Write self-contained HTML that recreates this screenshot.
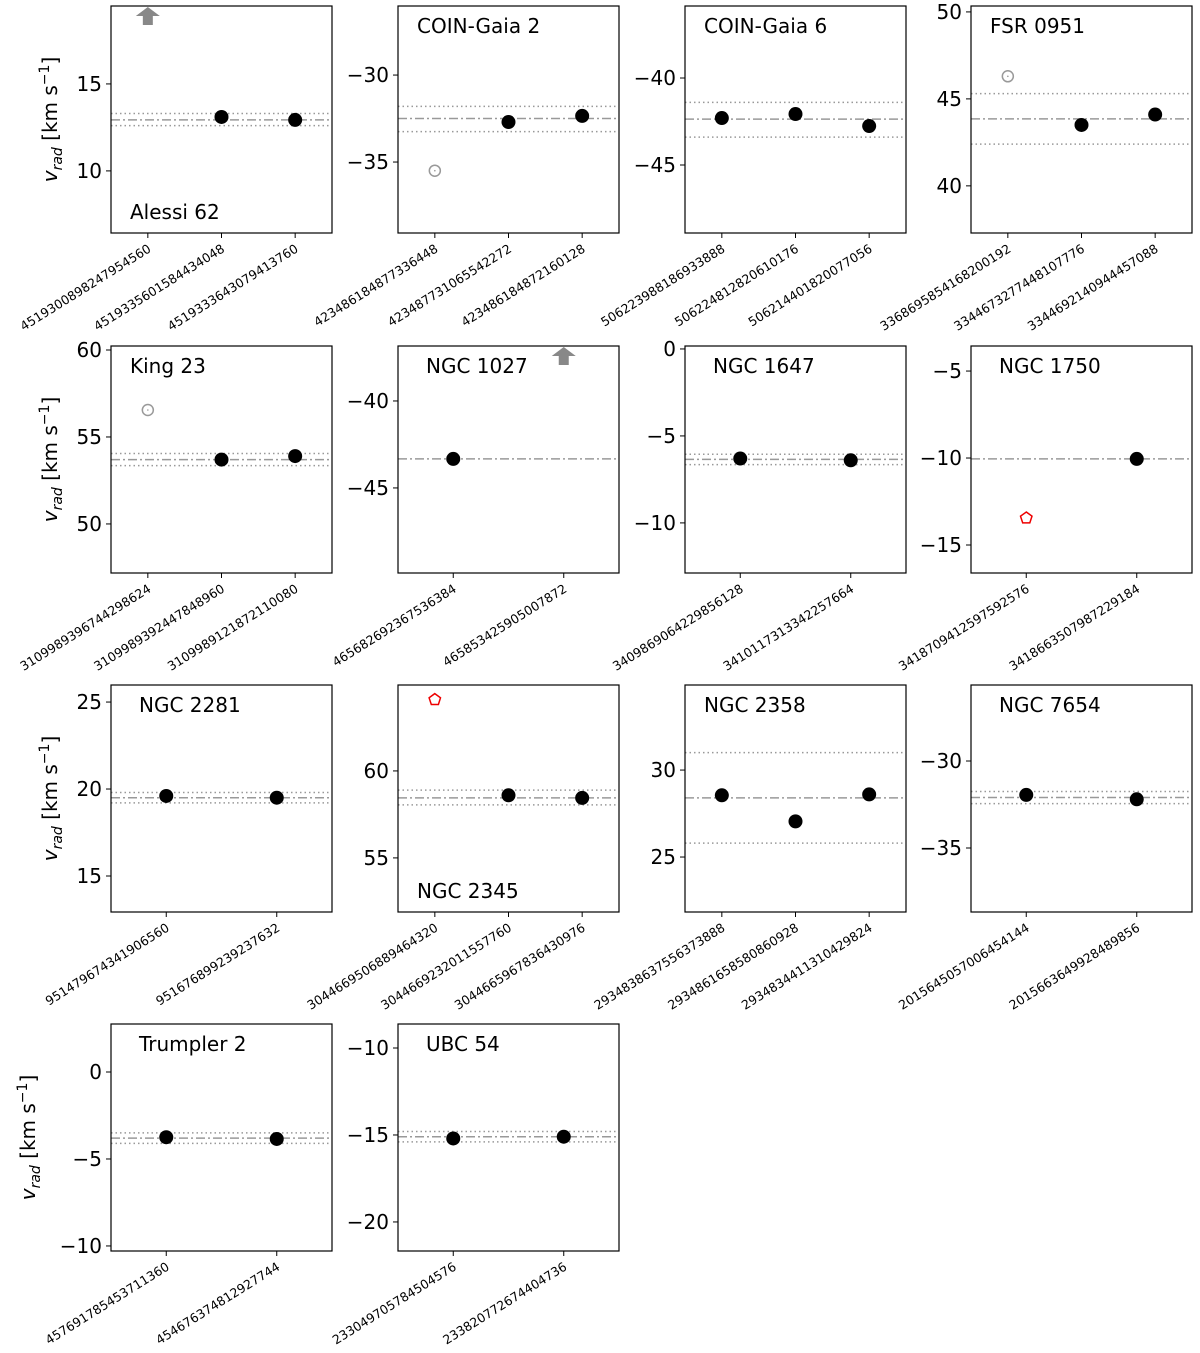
<!DOCTYPE html>
<html><head><meta charset="utf-8"><style>
html,body{margin:0;padding:0;background:#fff;}
svg{display:block;font-family:"DejaVu Sans","Liberation Sans",sans-serif;}
</style></head><body>
<svg id="fig" width="1200" height="1353" viewBox="0 0 1200 1353" xmlns="http://www.w3.org/2000/svg"></svg>
<script>
const panelNames=["Alessi 62","COIN-Gaia 2","COIN-Gaia 6","FSR 0951","King 23","NGC 1027","NGC 1647","NGC 1750","NGC 2281","NGC 2345","NGC 2358","NGC 7654","Trumpler 2","UBC 54"];
const yMax=[19.48,-26.03,-35.86,50.34,60.23,-36.84,0.17,-3.56,25.98,64.94,34.89,-25.63,2.76,-8.62];
const yTicks=[[10,15],[-35,-30],[-45,-40],[40,45,50],[50,55,60],[-45,-40],[-10,-5,0],[-15,-10,-5],[15,20,25],[55,60],[25,30],[-35,-30],[-10,-5,0],[-20,-15,-10]];
const starIds=[
["4519300898247954560","4519335601584434048","4519333643079413760"],
["423486184877336448","423487731065542272","423486184872160128"],
["506223988186933888","506224812820610176","506214401820077056"],
["3368695854168200192","3344673277448107776","3344692140944457088"],
["3109989396744298624","3109989392447848960","3109989121872110080"],
["465682692367536384","465853425905007872"],
["3409869064229856128","3410117313342257664"],
["3418709412597592576","3418663507987229184"],
["951479674341906560","951676899239237632"],
["3044669506889464320","3044669232011557760","3044665967836430976"],
["2934838637556373888","2934861658580860928","2934834411310429824"],
["2015645057006454144","2015663649928489856"],
["457691785453711360","454676374812927744"],
["233049705784504576","233820772674404736"]];
const starVals=[[null,13.1,12.93],[-35.5,-32.7,-32.35],[-42.3,-42.07,-42.76],[46.3,43.5,44.1],[56.55,53.7,53.9],[-43.33,null],[-6.3,-6.4],[-13.45,-10.05],[19.6,19.5],[64.1,58.6,58.45],[28.55,27.05,28.6],[-31.95,-32.2],[-3.75,-3.85],[-15.2,-15.1]];
const starKinds=[["arrow","member","member"],["outlier","member","member"],["member","member","member"],["outlier","member","member"],["outlier","member","member"],["member","arrow"],["member","member"],["binary","member"],["member","member"],["binary","member","member"],["member","member","member"],["member","member"],["member","member"],["member","member"]];
const meanVals=[12.93,-32.5,-42.36,43.85,53.7,-43.33,-6.35,-10.05,19.5,58.45,28.4,-32.1,-3.8,-15.1];
const dotHi=[13.3,-31.8,-41.4,45.3,54.05,null,-6.05,null,19.8,58.9,31.0,-31.75,-3.5,-14.8];
const dotLo=[12.6,-33.25,-43.4,42.4,53.35,null,-6.65,null,19.2,58.05,25.8,-32.45,-4.1,-15.4];
const namePos=["bottom","top","top","top","top","top","top","top","top","bottom","top","top","top","top"];

const NS="http://www.w3.org/2000/svg";
const svg=document.getElementById('fig');
const colX=[111,398,685,971], rowY=[6,346,685,1024], PW=221, PH=227, SPAN=13.05;
function mk(tag,attrs,parent){const e=document.createElementNS(NS,tag);for(const k in attrs)e.setAttribute(k,attrs[k]);(parent||svg).appendChild(e);return e;}

panelNames.forEach((nm,i)=>{
  const px=colX[i%4], py=rowY[Math.floor(i/4)];
  const n=starIds[i].length;
  const yScale=v=>py+(yMax[i]-v)/SPAN*PH;
  const xScale=k=>px+(k+0.5)/n*PW;
  const g=mk('g',{});
  
  
  const line=(v,dash,nmL)=>{const y=yScale(v);const l=mk('line',{x1:px,x2:px+PW,y1:y,y2:y,stroke:'#999','stroke-width':1.5,'stroke-dasharray':dash},g);};
  if(dotHi[i]!==null){line(dotHi[i],'1.5,3','upper-dispersion-line');line(dotLo[i],'1.5,3','lower-dispersion-line');}
  line(meanVals[i],'9,3,2,3','mean-velocity-line');
  yTicks[i].forEach(t=>{const y=yScale(t);
    const tl=mk('line',{x1:px-5,x2:px,y1:y,y2:y,stroke:'#000','stroke-width':1},g);
    
    const tx=mk('text',{x:px-9,y:y+7,'text-anchor':'end','font-size':20},g);
    
    tx.textContent=(t<0?'\u2212':'')+Math.abs(t);});
  starIds[i].forEach((id,k)=>{const x=xScale(k),yb=py+PH;
    const tl=mk('line',{x1:x,x2:x,y1:yb,y2:yb+5,stroke:'#000','stroke-width':1},g);
    
    const tx=mk('text',{x:0,y:0,'text-anchor':'end','font-size':12.5,transform:`translate(${x+4},${yb+18}) rotate(-32)`},g);
    
    tx.textContent=id;});
  starVals[i].forEach((v,k)=>{const x=xScale(k),kind=starKinds[i][k];let e;
    if(kind==='arrow'){e=mk('path',{d:`M${x-12},${py+10} L${x},${py+1} L${x+12},${py+10} L${x+5},${py+10} L${x+5},${py+19} L${x-5},${py+19} L${x-5},${py+10} Z`,fill:'#888'},g);
      }
    else{const y=yScale(v);
      if(kind==='member'){e=mk('circle',{cx:x,cy:y,r:7,fill:'#000'},g);}
      else if(kind==='outlier'){e=mk('circle',{cx:x,cy:y,r:5.5,fill:'none',stroke:'#999','stroke-width':1.5},g);mk('circle',{cx:x,cy:y,r:0.8,fill:'#999'},g);}
      else{let p='';for(let j=0;j<5;j++){const a=-Math.PI/2+j*2*Math.PI/5;p+=(x+6*Math.cos(a)).toFixed(1)+','+(y+6*Math.sin(a)).toFixed(1)+' ';}
        e=mk('polygon',{points:p,fill:'none',stroke:'#e00','stroke-width':1.5},g);}
    }
    });
  const fr=mk('rect',{x:px,y:py,width:PW,height:PH,fill:'none',stroke:'#000','stroke-width':1.2},g);
  
  const off=(n===2)?28:19;
  const tt=mk('text',{x:px+off,y:namePos[i]==='bottom'?py+213:py+27,'font-size':20},g);
  
  tt.textContent=nm;
  if(i%4===0){
    const tx=(i===12)?35:57;const cy=py+PH/2;
    const yt=mk('text',{x:0,y:0,'font-size':20,'text-anchor':'middle',transform:`translate(${tx},${cy}) rotate(-90)`},g);
    
    yt.innerHTML='<tspan font-style="italic">v</tspan><tspan font-style="italic" font-size="14" dy="5">rad</tspan><tspan dy="-5"> [km s</tspan><tspan font-size="14" dy="-8">\u22121</tspan><tspan dy="8">]</tspan>';
  }
});
</script>
</body></html>
